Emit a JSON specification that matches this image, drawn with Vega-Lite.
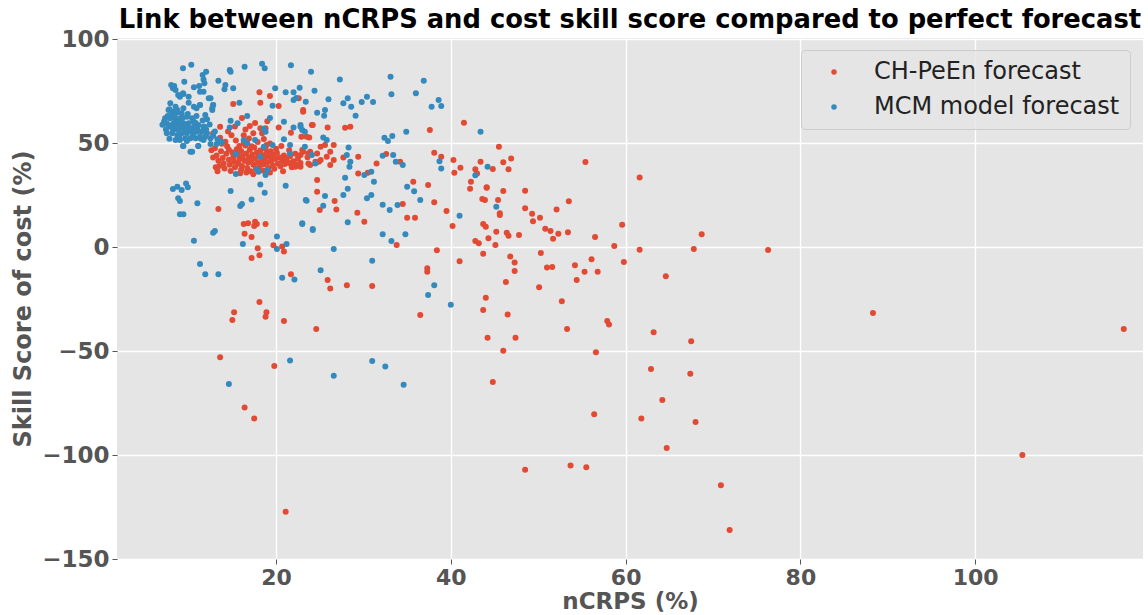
{
"$schema": "https://vega.github.io/schema/vega-lite/v6.json",
"width": 1026, "height": 521,
"autosize": "none",
"padding": {"left": 117, "top": 38, "right": 5, "bottom": 56},
"background": "white",
"title": {"text": "Link between nCRPS and cost skill score compared to perfect forecast", "font": "DejaVu Sans", "fontSize": 25.8, "fontWeight": "bold", "color": "black", "anchor": "middle", "offset": -6},
"datasets": {
"ch": [
{"x":18.1,"y":74.4},{"x":19.3,"y":72.6},{"x":15.1,"y":68.8},{"x":18.2,"y":69.4},{"x":20.3,"y":67.8},{"x":23.1,"y":65.9},{"x":22.6,"y":71.5},
{"x":24.2,"y":58.7},{"x":25.9,"y":57.5},{"x":27.9,"y":57.4},{"x":28.5,"y":57.8},{"x":23.8,"y":52.7},{"x":37.6,"y":56.3},{"x":41.5,"y":59.8},{"x":25.1,"y":48.2},{"x":25.6,"y":49.0},{"x":26.6,"y":49.0},{"x":23.1,"y":45.8},{"x":23.9,"y":45.8},{"x":24.7,"y":45.0},{"x":26.2,"y":45.8},{"x":25.8,"y":43.4},{"x":26.6,"y":41.8},{"x":27.7,"y":43.1},{"x":29.4,"y":43.4},{"x":23.7,"y":40.2},{"x":24.5,"y":41.0},{"x":25.1,"y":41.8},{"x":26.2,"y":39.4},{"x":22.8,"y":38.6},{"x":31.5,"y":40.2},{"x":32.6,"y":44.7},{"x":34.2,"y":41.0},{"x":29.4,"y":35.4},{"x":30.5,"y":35.7},{"x":35.7,"y":31.4},{"x":37.4,"y":29.8},{"x":38.1,"y":45.3},{"x":38.9,"y":43.4},{"x":40.3,"y":41.8},{"x":40.4,"y":35.7},{"x":41.1,"y":38.1},{"x":42.8,"y":37.4},{"x":43.0,"y":35.4},{"x":43.4,"y":41.0},{"x":42.3,"y":31.4},{"x":42.2,"y":28.0},{"x":44.1,"y":28.7},{"x":43.6,"y":23.1},{"x":43.9,"y":22.6},{"x":45.4,"y":22.6},{"x":45.6,"y":16.2},{"x":39.5,"y":17.3},{"x":38.1,"y":21.5},{"x":34.5,"y":20.7},{"x":26.7,"y":22.1},{"x":26.9,"y":18.1},{"x":24.7,"y":26.6},{"x":25.0,"y":17.8},{"x":29.3,"y":16.5},{"x":30.1,"y":12.2},{"x":35.0,"y":14.1},{"x":35.9,"y":14.1},{"x":40.2,"y":10.1},{"x":43.7,"y":11.1},{"x":44.0,"y":9.8},
{"x":45.2,"y":7.4},{"x":42.8,"y":2.9},{"x":43.2,"y":1.8},{"x":44.3,"y":4.2},{"x":45.1,"y":1.0},{"x":33.8,"y":1.0},{"x":38.4,"y":-1.6},{"x":43.7,"y":-3.2},{"x":41.0,"y":-6.9},{"x":37.3,"y":-10.2},{"x":37.3,"y":-11.9},{"x":25.9,"y":-15.9},{"x":26.2,"y":-19.9},{"x":28.1,"y":-18.4},{"x":31.0,"y":-18.8},{"x":44.0,"y":-24.4},{"x":43.7,"y":-30.3},{"x":36.5,"y":-32.7},{"x":24.6,"y":-39.4},{"x":44.2,"y":-43.6},{"x":44.8,"y":-64.9},
{"x":45.5,"y":48.2},{"x":46.0,"y":40.7},{"x":46.9,"y":42.6},{"x":44.8,"y":37.5},{"x":46.6,"y":37.4},{"x":55.4,"y":40.9},{"x":61.6,"y":33.4},{"x":44.1,"y":28.5},{"x":46.0,"y":26.9},{"x":48.5,"y":27.1},{"x":48.5,"y":18.7},{"x":49.3,"y":16.0},{"x":49.4,"y":12.4},{"x":50.2,"y":14.1},{"x":52.1,"y":18.0},{"x":53.5,"y":22.0},{"x":45.6,"y":15.4},{"x":46.4,"y":6.9},{"x":46.6,"y":5.4},{"x":47.8,"y":5.8},{"x":50.8,"y":8.8},{"x":51.4,"y":7.7},{"x":52.3,"y":6.4},{"x":51.7,"y":4.0},{"x":53.4,"y":7.1},{"x":50.3,"y":-2.9},{"x":56.5,"y":4.8},{"x":59.6,"y":10.7},{"x":68.7,"y":6.1},{"x":58.7,"y":0.5},{"x":61.6,"y":-1.3},{"x":67.8,"y":-1.0},{"x":46.8,"y":-4.5},{"x":47.3,"y":-7.5},{"x":47.3,"y":-11.5},{"x":46.3,"y":-16.8},{"x":50.1,"y":-19.4},{"x":51.0,"y":-9.8},{"x":51.6,"y":-9.6},{"x":54.2,"y":-8.8},{"x":56.1,"y":-5.9},{"x":55.3,"y":-11.9},{"x":56.8,"y":-11.9},{"x":54.4,"y":-15.9},{"x":59.8,"y":-7.2},{"x":64.6,"y":-14.1},
{"x":46.5,"y":-32.4},{"x":52.7,"y":-26.1},{"x":57.9,"y":-35.6},{"x":58.1,"y":-37.2},{"x":53.3,"y":-39.4},{"x":47.4,"y":-43.6},{"x":46.0,"y":-49.9},{"x":56.6,"y":-50.6},{"x":63.2,"y":-41.0},{"x":67.5,"y":-45.3},{"x":62.9,"y":-58.7},{"x":67.4,"y":-60.9},{"x":64.2,"y":-73.6},{"x":56.4,"y":-80.4},{"x":61.8,"y":-82.5},{"x":68.0,"y":-84.1},{"x":64.7,"y":-96.6},{"x":48.5,"y":-107.1},{"x":53.7,"y":-105.0},{"x":55.5,"y":-105.9},{"x":70.9,"y":-114.6},{"x":71.9,"y":-136.1},
{"x":76.3,"y":-1.4},{"x":88.3,"y":-31.7},{"x":105.4,"y":-100.0},{"x":117.0,"y":-39.4},
{"x":13.4,"y":18.3},{"x":16.3,"y":11.1},{"x":16.8,"y":11.4},{"x":17.6,"y":12.2},{"x":17.8,"y":11.1},{"x":18.8,"y":11.1},{"x":17.5,"y":10.1},{"x":16.4,"y":6.4},{"x":17.2,"y":4.8},{"x":17.9,"y":-0.6},{"x":18.1,"y":-4.0},{"x":17.2,"y":-5.3},{"x":19.7,"y":0.8},{"x":20.7,"y":0.2},{"x":20.9,"y":-2.2},{"x":21.7,"y":-13.1},{"x":18.1,"y":-26.4},{"x":15.2,"y":-31.4},{"x":15.0,"y":-35.1},{"x":18.9,"y":-31.4},{"x":18.8,"y":-33.5},{"x":20.9,"y":-35.6},{"x":13.6,"y":-53.0},{"x":19.8,"y":-57.2},{"x":16.4,"y":-77.1},{"x":17.5,"y":-82.4},{"x":21.1,"y":-127.3},
{"x":12.8,"y":54.7},{"x":13.6,"y":57.8},{"x":16.3,"y":53.8},{"x":17.0,"y":58.2},{"x":18.2,"y":57.1},{"x":18.8,"y":57.1},{"x":17.4,"y":54.7},{"x":23.1,"y":65.0},{"x":24.1,"y":58.7},{"x":23.5,"y":53.0},{"x":22.8,"y":44.2},{"x":23.7,"y":45.0},{"x":24.9,"y":41.0},{"x":21.6,"y":40.2},{"x":22.2,"y":38.6},{"x":23.9,"y":39.4},{"x":24.7,"y":32.2},
{"x":13.0,"y":47.5},{"x":13.2,"y":44.0},{"x":13.4,"y":41.5},{"x":13.5,"y":39.0},{"x":13.7,"y":46.0},{"x":13.9,"y":42.8},{"x":14.0,"y":40.2},{"x":14.1,"y":37.8},{"x":14.3,"y":44.9},{"x":14.4,"y":48.5},{"x":14.6,"y":42.0},{"x":14.7,"y":39.5},{"x":14.8,"y":36.5},{"x":15.0,"y":45.5},{"x":15.1,"y":43.3},{"x":15.2,"y":41.0},{"x":15.3,"y":38.4},{"x":15.5,"y":47.0},{"x":15.6,"y":44.4},{"x":15.7,"y":40.0},{"x":15.8,"y":42.2},{"x":16.0,"y":37.2},{"x":16.0,"y":46.2},{"x":16.1,"y":39.0},{"x":16.2,"y":43.8},{"x":16.4,"y":41.5},{"x":16.5,"y":48.8},{"x":16.6,"y":45.0},{"x":16.7,"y":38.0},{"x":16.8,"y":40.6},{"x":16.9,"y":43.0},{"x":17.0,"y":46.8},{"x":17.1,"y":36.4},{"x":17.2,"y":41.8},{"x":17.3,"y":44.5},{"x":17.4,"y":39.5},{"x":17.5,"y":47.9},{"x":17.6,"y":42.6},{"x":17.7,"y":37.5},{"x":17.8,"y":45.5},{"x":17.9,"y":40.4},{"x":18.0,"y":43.5},{"x":18.1,"y":38.6},{"x":18.2,"y":46.4},{"x":18.3,"y":41.2},{"x":18.4,"y":44.3},{"x":18.5,"y":36.8},{"x":18.6,"y":39.8},{"x":18.7,"y":42.4},{"x":18.8,"y":47.3},{"x":18.9,"y":45.1},{"x":19.0,"y":40.8},{"x":19.1,"y":38.0},{"x":19.2,"y":43.4},{"x":19.4,"y":46.0},{"x":19.5,"y":41.6},{"x":19.6,"y":39.2},{"x":19.7,"y":44.2},{"x":19.8,"y":37.6},{"x":19.9,"y":42.5},{"x":20.1,"y":45.3},{"x":20.2,"y":40.1},{"x":20.4,"y":43.0},{"x":20.5,"y":38.8},{"x":20.7,"y":41.5},{"x":20.9,"y":44.0},{"x":21.0,"y":39.9},{"x":21.2,"y":42.6},{"x":21.4,"y":40.6},{"x":21.6,"y":43.6},{"x":21.8,"y":38.4},{"x":22.0,"y":41.2},{"x":22.3,"y":39.6},{"x":22.5,"y":42.4},{"x":22.8,"y":40.4},{"x":14.2,"y":50.6},{"x":15.4,"y":51.2},{"x":16.3,"y":50.0},{"x":17.9,"y":50.5},{"x":19.3,"y":49.8},{"x":13.6,"y":52.5},{"x":14.9,"y":53.8},{"x":16.9,"y":52.2},{"x":18.6,"y":51.9},{"x":20.6,"y":48.6},{"x":12.8,"y":43.0},{"x":12.6,"y":46.5},{"x":13.1,"y":38.3},{"x":15.9,"y":35.5},{"x":17.4,"y":35.0},{"x":19.3,"y":35.8},{"x":20.8,"y":36.4},{"x":21.5,"y":46.5},{"x":22.2,"y":44.8},{"x":23.0,"y":46.6},{"x":23.6,"y":43.2},{"x":14.5,"y":55.6},{"x":16.5,"y":56.5},{"x":18.4,"y":54.7},{"x":15.3,"y":58.0},{"x":17.6,"y":59.6},{"x":19.0,"y":60.5},{"x":16.1,"y":62.0},{"x":20.3,"y":57.5},{"x":21.7,"y":55.0},{"x":22.9,"y":53.0},{"x":13.8,"y":49.6},{"x":14.6,"y":46.8},{"x":15.8,"y":48.6},{"x":17.2,"y":48.5},{"x":18.9,"y":49.0},{"x":20.0,"y":47.2},{"x":13.3,"y":36.4},{"x":16.6,"y":35.8}
],
"mcm": [
{"x":9.35,"y":85.9},{"x":10.3,"y":87.6},{"x":11.6,"y":82.7},{"x":12.0,"y":84.3},{"x":11.7,"y":80.6},{"x":11.8,"y":78.7},{"x":13.4,"y":80.0},{"x":14.7,"y":85.1},{"x":14.8,"y":84.3},{"x":16.4,"y":86.7},{"x":18.4,"y":88.1},{"x":18.7,"y":85.9},{"x":21.7,"y":87.4},{"x":8.0,"y":77.9},{"x":8.35,"y":77.4},{"x":8.2,"y":76.3},{"x":8.5,"y":75.5},{"x":9.5,"y":79.5},{"x":10.6,"y":76.8},{"x":11.2,"y":77.4},{"x":11.3,"y":74.7},{"x":9.35,"y":73.9},{"x":9.0,"y":72.3},{"x":12.5,"y":71.5},{"x":10.0,"y":69.4},{"x":14.2,"y":77.9},{"x":14.1,"y":75.8},{"x":15.1,"y":76.3},{"x":19.9,"y":76.3},{"x":21.1,"y":74.4},{"x":22.0,"y":74.4},{"x":22.7,"y":76.6},{"x":22.0,"y":70.7},{"x":22.3,"y":71.6},{"x":7.9,"y":69.1},{"x":7.8,"y":66.2},{"x":8.2,"y":65.0},{"x":7.3,"y":61.9},{"x":7.5,"y":59.5},{"x":10.9,"y":66.7},{"x":11.3,"y":68.3},{"x":12.8,"y":68.3},{"x":12.7,"y":65.9},{"x":15.8,"y":69.4},{"x":19.6,"y":67.9},{"x":16.7,"y":63.0},{"x":14.8,"y":60.7},{"x":14.7,"y":57.5},{"x":15.6,"y":59.5},{"x":12.1,"y":61.4},{"x":11.8,"y":57.8},{"x":19.3,"y":62.0},{"x":20.9,"y":60.2},{"x":22.0,"y":57.5},{"x":22.8,"y":58.7},{"x":23.0,"y":56.3},{"x":18.6,"y":56.9},{"x":18.8,"y":55.4},{"x":20.9,"y":51.8},{"x":21.6,"y":49.0},{"x":9.35,"y":48.6},{"x":10.2,"y":45.8},{"x":11.1,"y":48.6},{"x":12.5,"y":49.5},{"x":13.2,"y":49.5},{"x":15.4,"y":44.7},{"x":16.3,"y":51.4},{"x":16.7,"y":49.9},{"x":17.6,"y":51.4},{"x":18.6,"y":48.2},{"x":19.6,"y":49.0},{"x":18.2,"y":43.4},{"x":21.6,"y":45.0},{"x":15.4,"y":35.1},{"x":17.8,"y":37.4},{"x":18.0,"y":36.2},{"x":18.8,"y":34.6},{"x":19.0,"y":37.0},
{"x":8.5,"y":67.5},{"x":7.7,"y":65.9},{"x":8.1,"y":64.3},{"x":8.7,"y":65.9},{"x":9.4,"y":66.7},{"x":9.2,"y":64.3},{"x":7.9,"y":61.9},{"x":8.5,"y":61.1},{"x":9.0,"y":61.9},{"x":9.8,"y":62.6},{"x":10.4,"y":61.9},{"x":10.6,"y":60.2},{"x":8.3,"y":59.5},{"x":8.8,"y":58.7},{"x":9.4,"y":59.5},{"x":10.0,"y":59.5},{"x":7.7,"y":57.8},{"x":8.3,"y":57.1},{"x":8.8,"y":56.3},{"x":9.4,"y":57.1},{"x":10.0,"y":57.1},{"x":10.6,"y":57.8},{"x":11.1,"y":58.7},{"x":11.7,"y":57.8},{"x":7.5,"y":54.7},{"x":8.1,"y":54.7},{"x":8.7,"y":53.8},{"x":9.2,"y":54.7},{"x":9.8,"y":54.7},{"x":10.4,"y":55.4},{"x":10.9,"y":55.4},{"x":11.5,"y":55.4},{"x":12.1,"y":54.7},{"x":8.5,"y":51.4},{"x":9.0,"y":51.4},{"x":9.6,"y":52.3},{"x":10.2,"y":52.3},{"x":10.8,"y":52.3},{"x":11.3,"y":53.0},{"x":11.9,"y":53.0},{"x":12.5,"y":52.3},{"x":9.4,"y":48.6},{"x":10.4,"y":45.8},{"x":11.1,"y":48.6},{"x":11.7,"y":51.4},{"x":10.0,"y":72.3},{"x":10.6,"y":67.5},{"x":11.3,"y":68.3},{"x":11.9,"y":63.5},{"x":12.7,"y":66.7},{"x":12.8,"y":68.3},{"x":8.8,"y":73.1},{"x":9.4,"y":73.6},{"x":11.7,"y":74.7},{"x":12.3,"y":71.5},
{"x":7.2,"y":60.5},{"x":7.6,"y":63.0},{"x":8.0,"y":58.5},{"x":8.4,"y":62.5},{"x":8.9,"y":60.0},{"x":9.3,"y":62.0},{"x":9.7,"y":58.0},{"x":10.2,"y":56.0},{"x":10.5,"y":53.5},{"x":9.8,"y":51.0},{"x":8.9,"y":53.0},{"x":8.2,"y":56.0},{"x":7.8,"y":52.0},{"x":11.0,"y":57.0},{"x":11.4,"y":52.0},{"x":12.0,"y":56.5},{"x":12.8,"y":53.5},{"x":13.3,"y":51.8},{"x":13.8,"y":50.5},{"x":7.4,"y":56.5},{"x":9.1,"y":58.2},{"x":9.6,"y":55.8},{"x":10.8,"y":59.6},{"x":11.6,"y":60.8},{"x":8.6,"y":64.5},{"x":9.9,"y":64.0},{"x":10.9,"y":63.0},{"x":7.0,"y":58.8},{"x":12.4,"y":58.9},{"x":13.0,"y":55.5},
{"x":24.0,"y":84.3},{"x":27.3,"y":80.6},{"x":33.1,"y":81.9},{"x":36.9,"y":80.0},{"x":24.4,"y":75.1},{"x":33.2,"y":73.4},{"x":36.0,"y":73.9},{"x":26.0,"y":71.0},{"x":27.7,"y":69.1},{"x":28.2,"y":71.5},{"x":28.6,"y":67.5},{"x":29.8,"y":69.7},{"x":30.4,"y":72.3},{"x":31.1,"y":69.7},{"x":29.1,"y":63.1},{"x":24.7,"y":64.6},{"x":25.6,"y":65.9},{"x":25.5,"y":63.1},{"x":23.4,"y":69.9},{"x":38.6,"y":70.7},{"x":38.9,"y":67.8},{"x":37.8,"y":67.5},{"x":34.9,"y":55.4},{"x":32.4,"y":52.5},{"x":32.8,"y":51.0},{"x":33.3,"y":53.4},{"x":43.4,"y":55.4},{"x":22.8,"y":57.8},{"x":23.3,"y":55.4},{"x":25.4,"y":52.7},{"x":25.8,"y":51.4},{"x":28.3,"y":47.9},{"x":23.3,"y":48.2},{"x":24.1,"y":44.2},{"x":28.1,"y":44.2},{"x":28.5,"y":41.0},{"x":28.4,"y":38.6},{"x":24.5,"y":40.2},{"x":32.2,"y":43.9},{"x":33.4,"y":44.2},{"x":33.7,"y":41.0},{"x":34.5,"y":39.4},{"x":38.7,"y":41.3},{"x":38.9,"y":37.8},{"x":30.9,"y":36.2},{"x":30.1,"y":34.6},{"x":31.2,"y":31.4},{"x":27.9,"y":33.3},{"x":27.7,"y":25.0},{"x":28.2,"y":28.0},{"x":25.6,"y":24.5},{"x":25.4,"y":19.9},{"x":23.4,"y":22.6},{"x":30.4,"y":23.4},{"x":30.9,"y":25.0},{"x":32.2,"y":20.3},{"x":33.0,"y":17.8},{"x":33.9,"y":20.2},{"x":35.0,"y":29.0},{"x":35.8,"y":26.8},{"x":36.5,"y":22.6},{"x":42.8,"y":34.5},{"x":44.2,"y":38.6},{"x":41.0,"y":15.0},{"x":28.2,"y":11.9},{"x":24.2,"y":8.7},{"x":23.0,"y":11.4},{"x":45.2,"y":19.4},
{"x":24.2,"y":8.2},{"x":32.2,"y":6.1},{"x":33.2,"y":2.9},{"x":34.8,"y":6.1},{"x":26.6,"y":-1.0},{"x":31.0,"y":-6.6},{"x":25.1,"y":-11.2},{"x":38.1,"y":-18.4},{"x":37.4,"y":-23.1},{"x":40.0,"y":-27.7},{"x":31.0,"y":-54.8},{"x":32.5,"y":-57.5},{"x":26.6,"y":-61.9},{"x":34.6,"y":-66.2},
{"x":8.2,"y":27.9},{"x":8.7,"y":29.0},{"x":9.2,"y":27.4},{"x":9.7,"y":30.6},{"x":9.9,"y":28.7},{"x":8.8,"y":23.4},{"x":9.0,"y":22.1},{"x":9.0,"y":15.7},{"x":9.4,"y":15.7},{"x":11.0,"y":21.0},{"x":10.6,"y":3.0},{"x":12.8,"y":6.9},{"x":13.0,"y":7.7},{"x":14.8,"y":26.9},{"x":15.9,"y":19.7},{"x":16.1,"y":20.7},{"x":17.2,"y":22.9},{"x":18.2,"y":30.1},{"x":18.7,"y":26.1},{"x":21.1,"y":29.5},{"x":23.0,"y":11.1},{"x":23.5,"y":22.3},{"x":16.2,"y":1.4},{"x":20.1,"y":5.0},{"x":20.1,"y":-1.0},{"x":21.2,"y":1.4},{"x":11.3,"y":-8.2},{"x":11.9,"y":-13.1},{"x":13.4,"y":-13.1},{"x":20.7,"y":-14.8},{"x":22.1,"y":-15.6},{"x":21.6,"y":-54.5},{"x":14.6,"y":-65.9}
]
},
"layer": [
{"data": {"name": "ch"}, "mark": {"type": "circle", "size": 36, "opacity": 1},
 "encoding": {
  "x": {"field": "x", "type": "quantitative", "scale": {"domain": [1.8, 119.2], "nice": false, "zero": false}, "axis": {"values": [20, 40, 60, 80, 100], "title": "nCRPS (%)", "labelFontSize": 22, "labelPadding": 3, "titleFontSize": 23, "titlePadding": 2}},
  "y": {"field": "y", "type": "quantitative", "scale": {"domain": [-150, 100.5], "nice": false, "zero": false}, "axis": {"values": [-150, -100, -50, 0, 50, 100], "title": "Skill Score of cost (%)", "titlePadding": 6}},
  "color": {"datum": "CH-PeEn forecast", "type": "nominal", "scale": {"domain": ["CH-PeEn forecast", "MCM model forecast"], "range": ["#E24A33", "#348ABD"]},
   "legend": {"orient": "none", "legendX": 684, "legendY": 12, "title": null}}
 }},
{"data": {"name": "mcm"}, "mark": {"type": "circle", "size": 36, "opacity": 1},
 "encoding": {
  "x": {"field": "x", "type": "quantitative"},
  "y": {"field": "y", "type": "quantitative"},
  "color": {"datum": "MCM model forecast", "type": "nominal"}
 }}
],
"config": {
 "view": {"fill": "#E5E5E5", "stroke": null},
 "axis": {"domain": false, "grid": true, "gridColor": "#FFFFFF", "gridWidth": 1.3, "tickColor": "#555555", "tickSize": 5, "tickWidth": 1, "labelFont": "DejaVu Sans", "labelFontSize": 23, "labelFontWeight": "bold", "labelColor": "#555555", "labelPadding": 3, "titleFont": "DejaVu Sans", "titleFontSize": 24, "titleFontWeight": "bold", "titleColor": "#555555"},
 "legend": {"labelFont": "DejaVu Sans", "labelFontSize": 24, "labelColor": "#222222", "labelLimit": 400, "symbolType": "circle", "symbolSize": 30, "fillColor": "rgba(229,229,229,0.8)", "strokeColor": "#CCCCCC", "cornerRadius": 4, "padding": 10, "symbolOffset": 11, "labelOffset": 28, "rowPadding": 11}
}
}
